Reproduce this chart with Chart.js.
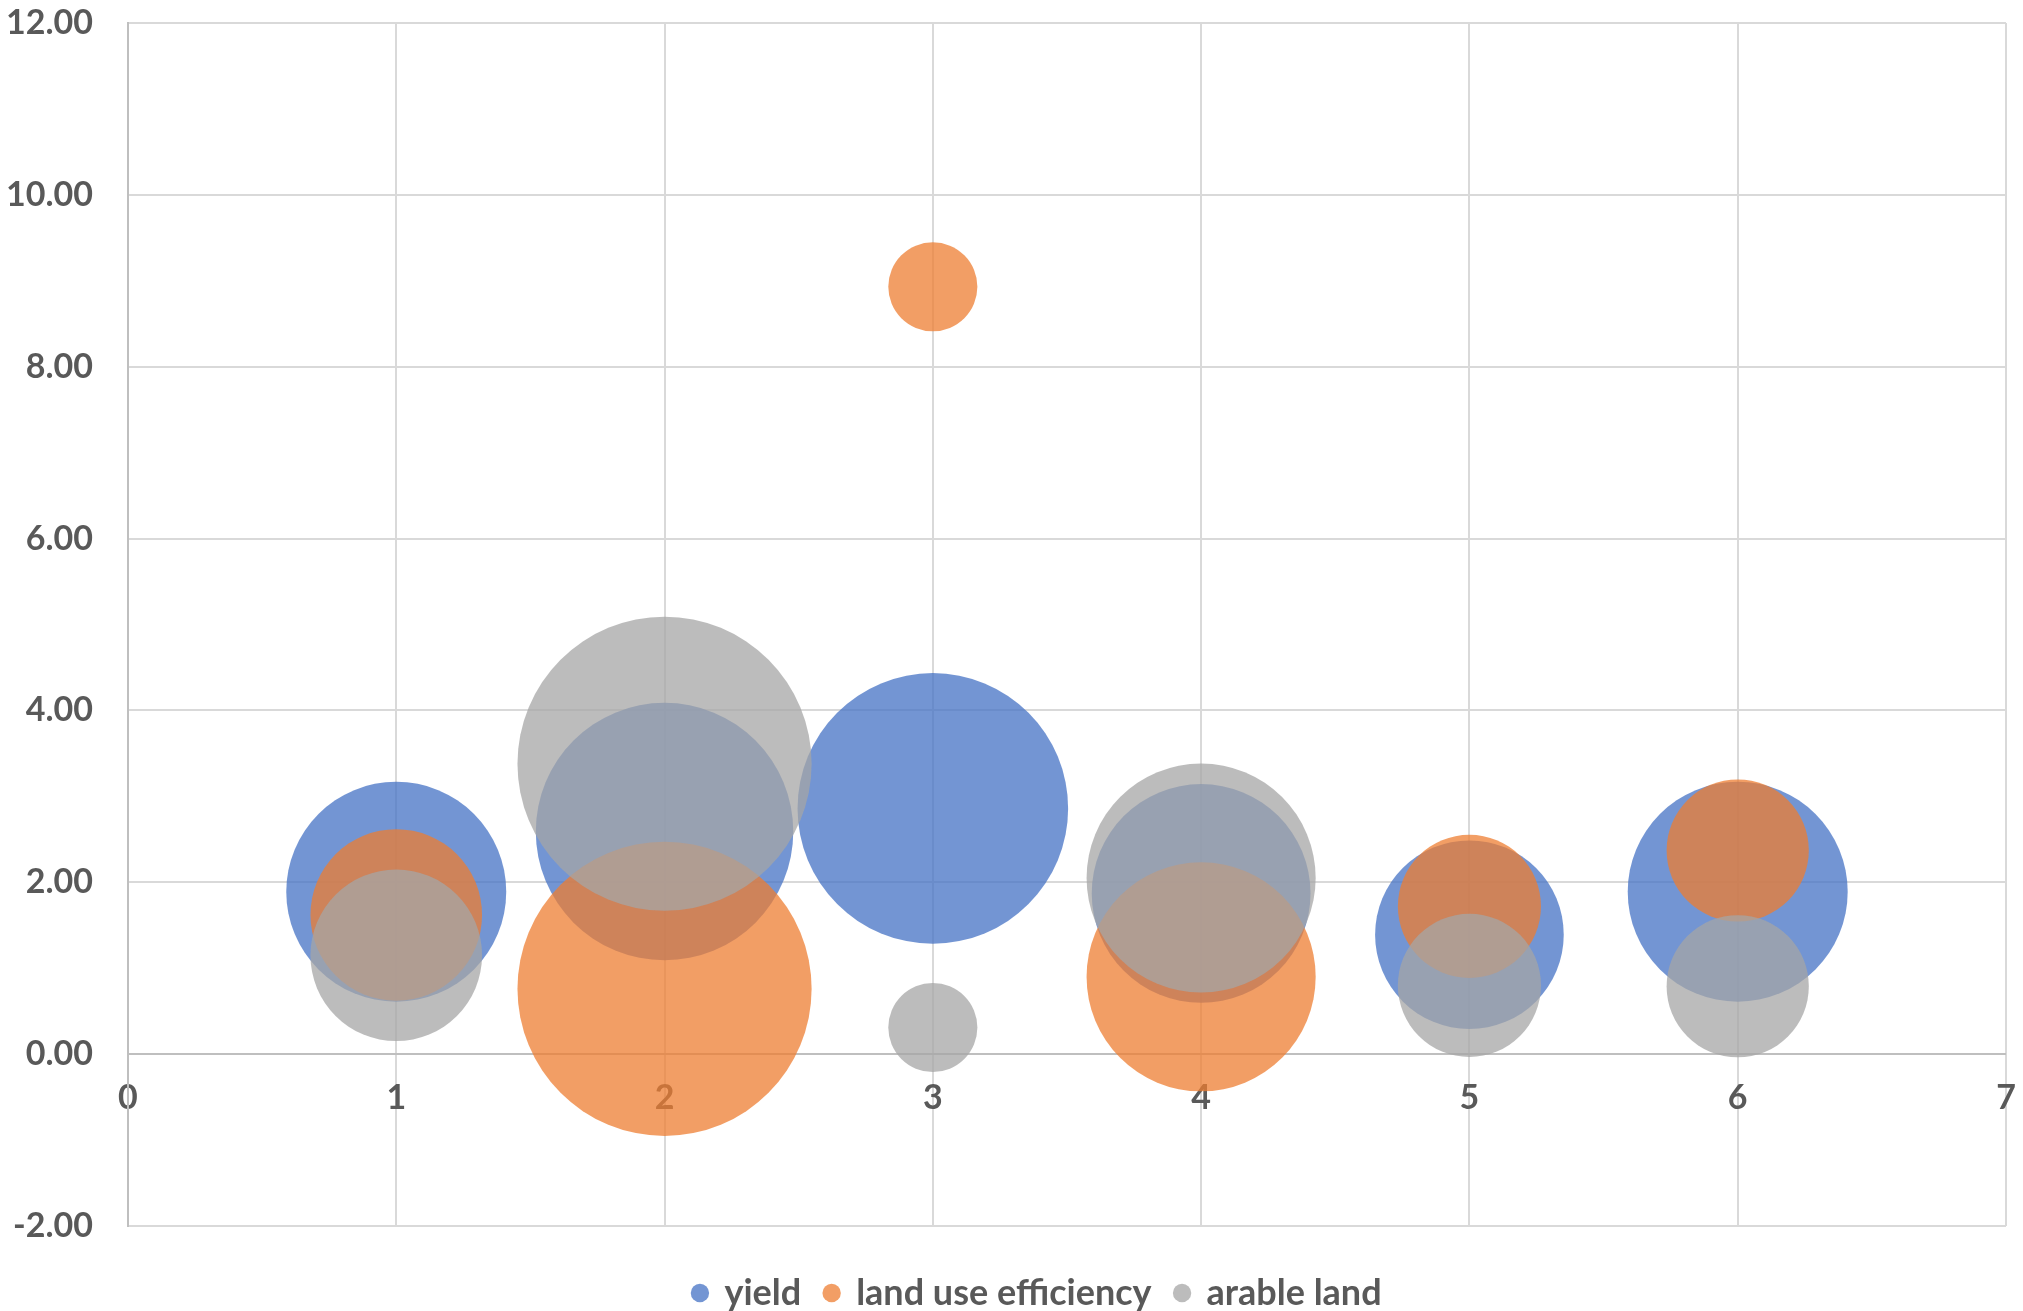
<!DOCTYPE html>
<html>
<head>
<meta charset="utf-8">
<script src="https://cdn.jsdelivr.net/npm/chart.js@4/dist/chart.umd.min.js"></script>
<style>
  html, body { margin: 0; padding: 0; background: #fff; }
  #wrap { width: 2023px; height: 1311px; }
</style>
</head>
<body>
<div id="wrap"><canvas id="bubbleChart"></canvas></div>
<script>
// data
const xValues = [1, 2, 3, 4, 5, 6];
const yieldValues = [1.89, 2.59, 2.86, 1.87, 1.39, 1.89];
const landUseValues = [1.62, 0.76, 8.93, 0.90, 1.72, 2.37];
const arableValues = [1.15, 3.38, 0.31, 2.05, 0.80, 0.79];
// bubble sizes (yield sized by itself, the other two by arable land)
const yieldSizes = [1.89, 2.59, 2.86, 1.87, 1.39, 1.89];
const landUseSizes = [1.15, 3.38, 0.31, 2.05, 0.80, 0.79];
const arableSizes = [1.15, 3.38, 0.31, 2.05, 0.80, 0.79];
const seriesNames = ["yield", "land use efficiency", "arable land"];
const yTicks = [-2, 0, 2, 4, 6, 8, 10, 12];

const sizeScale = 80; // px radius per sqrt(size)

const toPoints = (ys, sizes) =>
  xValues.map((x, i) => ({ x: x, y: ys[i], r: sizeScale * Math.sqrt(sizes[i]) }));

const textColor = "#595959";
const fontFamily = "Lato, 'Open Sans', sans-serif";
const tickFont = { family: fontFamily, size: 34, weight: "bold" };

// keep tick labels from pushing the plot area in
const noLabelPadding = (axis) => {
  axis.paddingLeft = 0;
  axis.paddingRight = 0;
  axis.paddingTop = 0;
  axis.paddingBottom = 0;
};

// legend sits a little right of the canvas centre in the original
const legendShift = {
  id: "legendShift",
  afterLayout(chart) {
    chart.legend.left += 49;
    chart.legend.right += 49;
  }
};

const ctx = document.getElementById("bubbleChart").getContext("2d");

new Chart(ctx, {
  type: "bubble",
  data: {
    datasets: [
      {
        label: seriesNames[0],
        data: toPoints(yieldValues, yieldSizes),
        backgroundColor: "rgba(68, 114, 196, 0.75)",
        borderWidth: 0,
        order: 3
      },
      {
        label: seriesNames[1],
        data: toPoints(landUseValues, landUseSizes),
        backgroundColor: "rgba(237, 125, 49, 0.75)",
        borderWidth: 0,
        order: 2
      },
      {
        label: seriesNames[2],
        data: toPoints(arableValues, arableSizes),
        backgroundColor: "rgba(165, 165, 165, 0.75)",
        borderWidth: 0,
        order: 1
      }
    ]
  },
  plugins: [legendShift],
  options: {
    responsive: true,
    maintainAspectRatio: false,
    animation: false,
    layout: {
      autoPadding: false,
      padding: { top: 23, right: 17, left: -29, bottom: -10 }
    },
    plugins: {
      tooltip: { enabled: false },
      legend: {
        position: "bottom",
        // empty title only pushes the legend row down
        title: { display: true, text: " ", font: { size: 5, lineHeight: 1 }, padding: 10 },
        labels: {
          usePointStyle: true,
          pointStyle: "circle",
          boxWidth: 13,
          boxHeight: 13,
          padding: 24,
          color: textColor,
          font: { family: fontFamily, size: 36, weight: "bold" },
          sort: (a, b) => a.datasetIndex - b.datasetIndex
        }
      }
    },
    scales: {
      // vertical gridlines, under the bubbles
      xGrid: {
        type: "linear",
        position: { y: 0 },
        min: 0,
        max: 7,
        ticks: { stepSize: 1, display: false },
        grid: { color: "#d9d9d9", lineWidth: 2, drawTicks: false },
        border: { display: false },
        afterFit: noLabelPadding
      },
      // tick labels, drawn over the bubbles
      x: {
        type: "linear",
        position: { y: 0 },
        z: 1,
        min: 0,
        max: 7,
        ticks: {
          stepSize: 1,
          padding: 15,
          color: textColor,
          font: tickFont
        },
        grid: { display: false },
        border: { display: false },
        afterFit: noLabelPadding
      },
      y: {
        type: "linear",
        min: yTicks[0],
        max: yTicks[yTicks.length - 1],
        afterBuildTicks: (axis) => {
          axis.ticks = yTicks.map(v => ({ value: v }));
        },
        afterFit: noLabelPadding,
        ticks: {
          padding: 35,
          color: textColor,
          font: tickFont,
          callback: (v) => Number(v).toFixed(2)
        },
        grid: {
          color: (c) => (c.tick && c.tick.value === 0 ? "#bfbfbf" : "#d9d9d9"),
          lineWidth: 2,
          drawTicks: false
        },
        border: { color: "#bfbfbf", width: 2 }
      }
    }
  }
});
</script>
</body>
</html>
